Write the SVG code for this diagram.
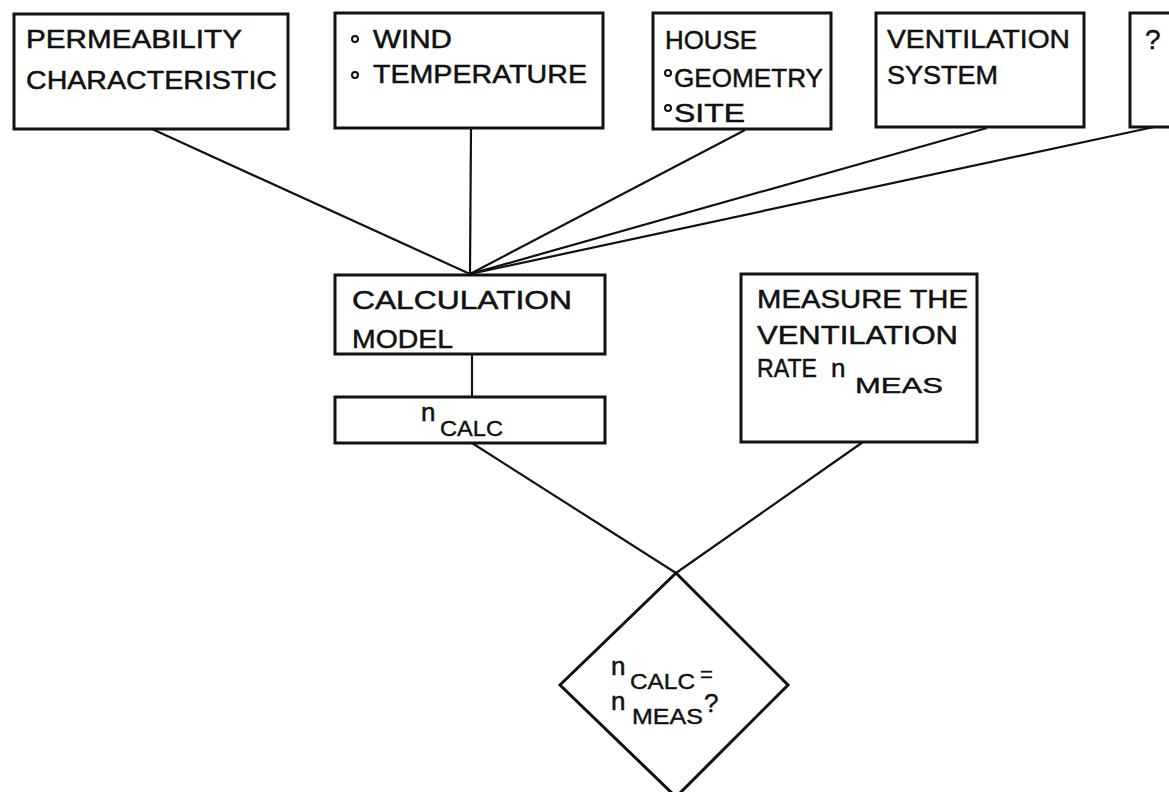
<svg xmlns="http://www.w3.org/2000/svg" width="1169" height="792" viewBox="0 0 1169 792">
<style>
.box{fill:#fff;stroke:#111;stroke-width:3}
.t{font-family:"Liberation Sans","DejaVu Sans",sans-serif;font-size:26px;fill:#111;stroke:#111;stroke-width:0.5}
.s{font-family:"Liberation Sans","DejaVu Sans",sans-serif;font-size:22px;fill:#111;stroke:#111;stroke-width:0.4}
.c{stroke:#111;stroke-width:2.2;fill:none}
.b{fill:none;stroke:#111;stroke-width:2}
</style>
<rect width="1169" height="792" fill="#fff"/>
<g id="connectors">
<line class="c" x1="152" y1="129" x2="470" y2="274"/>
<line class="c" x1="471" y1="128" x2="470" y2="274"/>
<line class="c" x1="745" y1="130" x2="470" y2="274"/>
<line class="c" x1="987" y1="128" x2="470" y2="274"/>
<line class="c" x1="1154" y1="127" x2="470" y2="274"/>
<line class="c" x1="472" y1="354" x2="472" y2="397"/>
<line class="c" x1="472" y1="443" x2="676" y2="573"/>
<line class="c" x1="863" y1="442" x2="676" y2="573"/>
</g>
<g id="permeability">
<rect class="box" x="14" y="14" width="274" height="115"/>
<text class="t" x="26" y="48" textLength="216" lengthAdjust="spacingAndGlyphs">PERMEABILITY</text>
<text class="t" x="26" y="89" textLength="251" lengthAdjust="spacingAndGlyphs">CHARACTERISTIC</text>
</g>
<g id="weather">
<rect class="box" x="335" y="13" width="268" height="115"/>
<circle class="b" cx="355" cy="39" r="3"/>
<text class="t" x="373" y="48" textLength="79" lengthAdjust="spacingAndGlyphs">WIND</text>
<circle class="b" cx="355" cy="75" r="3"/>
<text class="t" x="373" y="83" textLength="214" lengthAdjust="spacingAndGlyphs">TEMPERATURE</text>
</g>
<g id="house">
<rect class="box" x="653" y="13" width="178" height="116"/>
<text class="t" x="665" y="49" textLength="92" lengthAdjust="spacingAndGlyphs">HOUSE</text>
<circle class="b" cx="668" cy="73" r="3"/>
<text class="t" x="674" y="87" textLength="149" lengthAdjust="spacingAndGlyphs">GEOMETRY</text>
<circle class="b" cx="668" cy="108" r="3"/>
<text class="t" x="674" y="122" textLength="71" lengthAdjust="spacingAndGlyphs">SITE</text>
</g>
<g id="ventilation-system">
<rect class="box" x="876" y="13" width="208" height="114"/>
<text class="t" x="887" y="48" textLength="183" lengthAdjust="spacingAndGlyphs">VENTILATION</text>
<text class="t" x="887" y="84" textLength="111" lengthAdjust="spacingAndGlyphs">SYSTEM</text>
</g>
<g id="unknown">
<rect class="box" x="1130" y="13" width="60" height="114"/>
<text class="t" x="1145" y="49" style="font-size:28px">?</text>
</g>
<g id="calculation-model">
<rect class="box" x="335" y="275" width="270" height="79"/>
<text class="t" x="352" y="309" textLength="220" lengthAdjust="spacingAndGlyphs">CALCULATION</text>
<text class="t" x="352" y="348" textLength="101" lengthAdjust="spacingAndGlyphs">MODEL</text>
</g>
<g id="n-calc">
<rect class="box" x="335" y="397" width="270" height="46"/>
<text class="t" x="421" y="421">n</text>
<text class="s" x="440" y="436" textLength="63" lengthAdjust="spacingAndGlyphs">CALC</text>
</g>
<g id="measure">
<rect class="box" x="741" y="274" width="236" height="168"/>
<text class="t" x="757" y="308" textLength="211" lengthAdjust="spacingAndGlyphs">MEASURE THE</text>
<text class="t" x="757" y="344" textLength="201" lengthAdjust="spacingAndGlyphs">VENTILATION</text>
<text class="t" x="757" y="377" textLength="60" lengthAdjust="spacingAndGlyphs">RATE</text>
<text class="t" x="831" y="377">n</text>
<text class="s" x="855" y="393" textLength="88" lengthAdjust="spacingAndGlyphs">MEAS</text>
</g>
<g id="decision">
<polygon class="box" points="676,573 788,685 676,797 560,685"/>
<text class="t" x="611" y="675">n</text>
<text class="s" x="630" y="689" textLength="65" lengthAdjust="spacingAndGlyphs">CALC</text>
<text class="s" x="700" y="682">=</text>
<text class="t" x="611" y="710">n</text>
<text class="s" x="632" y="724" textLength="71" lengthAdjust="spacingAndGlyphs">MEAS</text>
<text class="t" x="704" y="712">?</text>
</g>
</svg>
